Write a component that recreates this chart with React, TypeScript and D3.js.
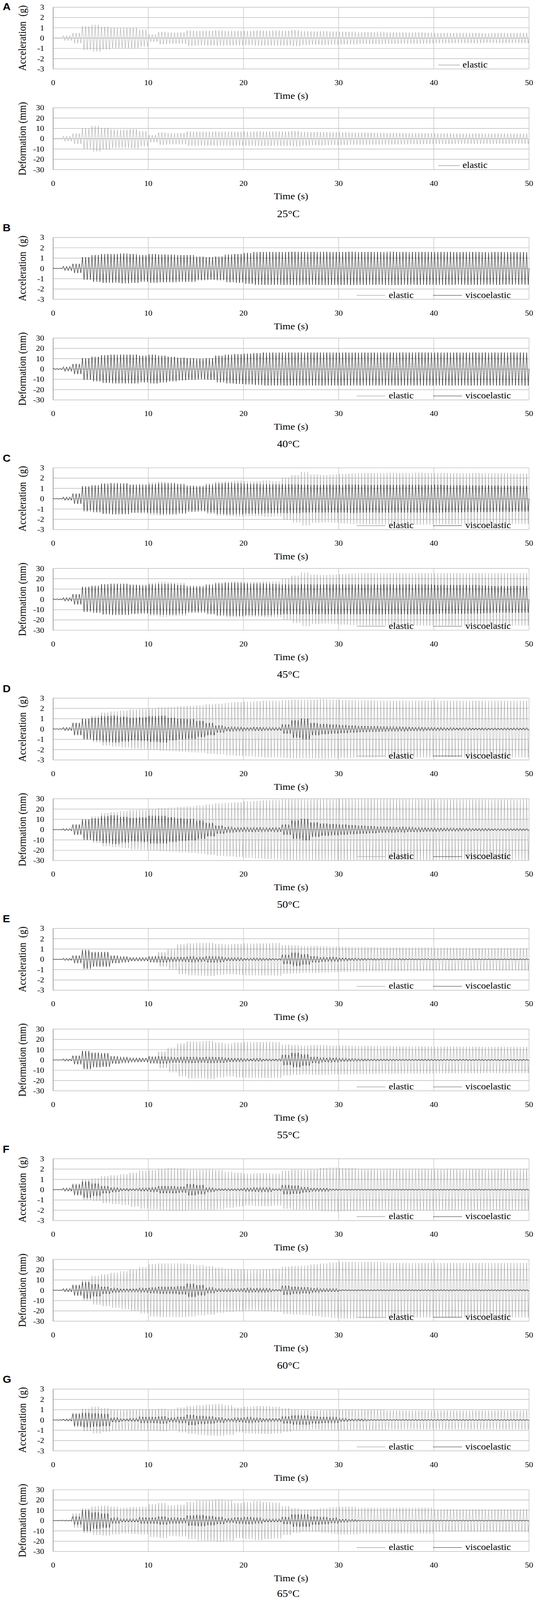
// App
import { useEffect, useState } from 'react';
import * as d3 from 'd3';

// Time axis, tick labels, panel names
const timeTicks = [0, 10, 20, 30, 40, 50];
const accTicks = [3, 2, 1, 0, -1, -2, -3];
const defTicks = [30, 20, 10, 0, -10, -20, -30];
const panelLetters = ['A', 'B', 'C', 'D', 'E', 'F', 'G'];
const temperatures = ['25°C', '40°C', '45°C', '50°C', '55°C', '60°C', '65°C'];

// Peak amplitude for every second (index = second 0..49)
// Acceleration in g, deformation in mm
const accElastic25 = [0.03, 0.25, 0.5, 1.15, 1.3, 1.1, 1.0, 1.0, 1.0, 0.85, 0.35, 0.6, 0.55, 0.55, 0.75, 0.72, 0.72, 0.75, 0.72, 0.7, 0.7, 0.75, 0.72, 0.75, 0.72, 0.78, 0.68, 0.65, 0.68, 0.65, 0.62, 0.62, 0.58, 0.58, 0.6, 0.56, 0.55, 0.55, 0.55, 0.52, 0.5, 0.5, 0.5, 0.5, 0.5, 0.48, 0.5, 0.5, 0.5, 0.5];
const defElastic25 = [0.5, 2.5, 5, 10, 12.5, 10.5, 9, 8.8, 9.2, 7.5, 3.5, 6, 5.5, 5.5, 7, 7, 6.8, 7, 7, 6.8, 7, 7.2, 7, 7.2, 7, 7.5, 6.8, 6.5, 6.5, 6.3, 6.2, 6, 6, 5.8, 5.8, 5.6, 5.5, 5.5, 5.4, 5.3, 5.2, 5.2, 5, 5, 5, 5, 5, 5, 5, 5];

const accElastic40 = [0.03, 0.2, 0.45, 1.1, 1.3, 1.4, 1.4, 1.45, 1.4, 1.3, 1.4, 1.35, 1.35, 1.3, 1.3, 1.15, 1.1, 1.15, 1.35, 1.4, 1.5, 1.6, 1.6, 1.6, 1.6, 1.62, 1.6, 1.6, 1.62, 1.6, 1.6, 1.62, 1.6, 1.6, 1.6, 1.62, 1.6, 1.6, 1.6, 1.6, 1.6, 1.6, 1.58, 1.6, 1.6, 1.58, 1.6, 1.58, 1.58, 1.58];
const accVisco40 = [0.03, 0.2, 0.45, 1.1, 1.3, 1.4, 1.4, 1.45, 1.4, 1.3, 1.4, 1.35, 1.35, 1.3, 1.3, 1.15, 1.1, 1.15, 1.35, 1.4, 1.5, 1.6, 1.6, 1.6, 1.6, 1.62, 1.6, 1.6, 1.62, 1.6, 1.6, 1.62, 1.6, 1.6, 1.6, 1.62, 1.6, 1.6, 1.6, 1.6, 1.6, 1.6, 1.58, 1.6, 1.6, 1.58, 1.6, 1.58, 1.58, 1.58];
const defElastic40 = [0.5, 2, 5, 10.5, 12, 13.5, 14, 14, 14, 13, 14, 13, 12, 11, 10.5, 10, 10.5, 13, 14, 14.5, 15, 15.5, 16, 16, 16, 16, 16, 16, 16, 16, 16, 16, 16, 16, 16, 16, 16, 16, 16, 16, 16, 16, 16, 16, 16, 16, 16, 16, 16, 16];
const defVisco40 = [0.5, 2, 5, 10.5, 12, 13.5, 14, 14, 14, 13, 14, 13, 12, 11, 10.5, 10, 10.5, 13, 14, 14.5, 15, 15.5, 16, 16, 16, 16, 16, 16, 16, 16, 16, 16, 16, 16, 16, 16, 16, 16, 16, 16, 16, 16, 16, 16, 16, 16, 16, 16, 16, 16];

const accElastic45 = [0.03, 0.15, 0.5, 1.25, 1.35, 1.5, 1.55, 1.5, 1.4, 1.45, 1.6, 1.65, 1.6, 1.5, 1.3, 1.3, 1.5, 1.65, 1.7, 1.75, 1.7, 1.7, 1.75, 1.7, 2.05, 2.3, 2.6, 2.35, 2.3, 2.35, 2.4, 2.45, 2.5, 2.5, 2.5, 2.52, 2.5, 2.5, 2.52, 2.5, 2.5, 2.5, 2.48, 2.5, 2.5, 2.48, 2.48, 2.48, 2.45, 2.45];
const accVisco45 = [0.03, 0.15, 0.5, 1.2, 1.3, 1.45, 1.5, 1.5, 1.35, 1.35, 1.4, 1.5, 1.5, 1.4, 1.25, 1.2, 1.35, 1.5, 1.55, 1.5, 1.45, 1.45, 1.4, 1.4, 1.4, 1.4, 1.35, 1.35, 1.35, 1.35, 1.35, 1.38, 1.35, 1.35, 1.35, 1.35, 1.35, 1.35, 1.35, 1.35, 1.35, 1.32, 1.32, 1.3, 1.3, 1.3, 1.28, 1.28, 1.25, 1.25];
const defElastic45 = [0.5, 1.5, 5, 12.5, 13.5, 15, 15.5, 15.5, 14.5, 14.5, 16, 17, 16.5, 16, 13.5, 13.5, 15, 16.5, 17.5, 17.5, 17, 17, 17.5, 17.5, 20, 23, 26, 24, 23.5, 24, 24.5, 25, 25.5, 25.5, 25.5, 25.5, 25.5, 25.5, 25.5, 25.5, 25.5, 25.5, 25.5, 25.5, 25.5, 25.5, 25.5, 25.5, 25.5, 25.5];
const defVisco45 = [0.5, 1.5, 5, 12, 13, 14.5, 15, 15, 14, 13.5, 14.5, 15, 15, 14, 12.5, 12.5, 14, 15.5, 16, 16, 15.5, 15.5, 15.5, 15, 14.5, 14.5, 14.5, 14.5, 14.5, 14.5, 14.5, 14.5, 14.5, 14.5, 14.5, 14.5, 14.5, 14.5, 14.5, 14.5, 14, 14, 14, 14, 14, 13.5, 13, 13, 13, 13];

const accElastic50 = [0.03, 0.15, 0.6, 1.0, 1.3, 1.6, 1.7, 1.8, 1.9, 1.95, 2.0, 2.1, 2.15, 2.2, 2.25, 2.3, 2.4, 2.45, 2.55, 2.6, 2.65, 2.7, 2.75, 2.75, 2.8, 2.85, 2.85, 2.85, 2.9, 2.85, 2.8, 2.8, 2.78, 2.78, 2.75, 2.75, 2.75, 2.75, 2.75, 2.75, 2.75, 2.75, 2.75, 2.75, 2.75, 2.75, 2.75, 2.75, 2.75, 2.75];
const accVisco50 = [0.03, 0.15, 0.6, 1.0, 1.1, 1.25, 1.3, 1.2, 1.1, 1.15, 1.25, 1.3, 1.1, 1.0, 0.95, 0.8, 0.6, 0.35, 0.2, 0.18, 0.15, 0.18, 0.15, 0.15, 0.45, 0.85, 1.0, 0.6, 0.5, 0.45, 0.4, 0.35, 0.3, 0.28, 0.25, 0.22, 0.2, 0.18, 0.17, 0.15, 0.14, 0.13, 0.12, 0.12, 0.11, 0.1, 0.1, 0.1, 0.1, 0.1];
const defElastic50 = [0.3, 1, 5, 10, 13, 16, 17, 18, 19, 19.5, 20, 21, 21.5, 22, 22.5, 23.5, 24.5, 25.5, 26, 26.5, 27.5, 28, 28.5, 29, 29.5, 29.5, 29.5, 29.5, 29.5, 29.5, 29.5, 29.5, 29.5, 29.5, 29.5, 29.5, 29.5, 29.5, 29.5, 29.5, 29.3, 29.3, 29.3, 29.3, 29.3, 29.3, 29.3, 29.3, 29.3, 29.3];
const defVisco50 = [0.3, 1, 5, 10, 11, 13, 14, 12.5, 11.5, 12, 13.5, 13.5, 12, 11, 10.5, 9, 6.5, 4, 2.5, 2, 2, 2, 1.8, 2, 5, 9, 10.5, 7, 6, 5.5, 5, 4.5, 4, 3.5, 3, 2.8, 2.5, 2.2, 2, 1.8, 1.6, 1.5, 1.4, 1.3, 1.2, 1.1, 1, 1, 1, 1];

const accElastic55 = [0.02, 0.1, 0.4, 0.95, 0.75, 0.75, 0.4, 0.3, 0.2, 0.2, 0.35, 0.7, 1.0, 1.45, 1.55, 1.6, 1.6, 1.5, 1.45, 1.5, 1.55, 1.55, 1.55, 1.6, 1.4, 1.35, 1.3, 1.3, 1.28, 1.25, 1.22, 1.2, 1.2, 1.18, 1.18, 1.17, 1.15, 1.15, 1.15, 1.15, 1.12, 1.12, 1.12, 1.12, 1.1, 1.1, 1.1, 1.1, 1.1, 1.1];
const accVisco55 = [0.02, 0.1, 0.35, 0.9, 0.7, 0.7, 0.35, 0.25, 0.15, 0.15, 0.25, 0.3, 0.2, 0.2, 0.25, 0.2, 0.3, 0.25, 0.15, 0.15, 0.1, 0.12, 0.1, 0.08, 0.45, 0.65, 0.5, 0.3, 0.2, 0.2, 0.15, 0.12, 0.1, 0.08, 0.08, 0.07, 0.07, 0.06, 0.06, 0.06, 0.05, 0.05, 0.05, 0.05, 0.05, 0.05, 0.05, 0.05, 0.05, 0.05];
const defElastic55 = [0.2, 1, 4.5, 9, 7.5, 7, 4, 3, 2.2, 2.2, 4, 8, 12, 16, 18, 18, 18.5, 17, 16, 17, 17.5, 17.5, 17.5, 17.5, 15, 14.5, 14, 14.5, 14.5, 14, 14, 13.8, 13.7, 13.5, 13.5, 13.5, 13.3, 13.3, 13.2, 13.2, 13, 13, 13, 13, 13, 12.8, 12.8, 12.8, 12.8, 12.8];
const defVisco55 = [0.2, 1, 4, 8.8, 7, 6.5, 3.5, 2.5, 1.8, 1.8, 3, 3.5, 2.5, 2.5, 3, 2.5, 3, 2.8, 1.8, 1.5, 1.2, 1.5, 1, 1, 5, 7, 5.5, 3, 2, 2, 1.5, 1.2, 1, 0.9, 0.8, 0.8, 0.7, 0.7, 0.7, 0.7, 0.6, 0.6, 0.6, 0.6, 0.6, 0.6, 0.6, 0.6, 0.6, 0.6];

const accElastic60 = [0.03, 0.15, 0.6, 1.0, 1.1, 1.3, 1.4, 1.5, 1.65, 1.85, 1.9, 2.0, 2.1, 2.05, 1.95, 1.95, 1.95, 1.9, 1.75, 1.65, 1.55, 1.6, 1.6, 1.55, 1.85, 1.95, 1.95, 1.95, 2.1, 2.15, 2.1, 2.1, 2.0, 2.0, 2.0, 2.0, 2.0, 2.0, 2.0, 2.0, 2.0, 2.0, 2.0, 2.0, 2.0, 2.0, 2.0, 2.0, 2.0, 2.0];
const accVisco60 = [0.03, 0.15, 0.5, 0.8, 0.6, 0.35, 0.2, 0.12, 0.1, 0.15, 0.2, 0.35, 0.35, 0.3, 0.55, 0.45, 0.2, 0.1, 0.1, 0.1, 0.15, 0.2, 0.2, 0.1, 0.45, 0.4, 0.25, 0.15, 0.15, 0.08, 0.05, 0.05, 0.05, 0.05, 0.05, 0.05, 0.05, 0.05, 0.05, 0.05, 0.05, 0.05, 0.05, 0.05, 0.05, 0.05, 0.05, 0.05, 0.05, 0.05];
const defElastic60 = [0.3, 1.5, 5.5, 10, 14, 15.5, 17, 18.5, 20, 22.5, 25.5, 26, 26, 26, 25.5, 24.5, 23.5, 22, 21, 20.5, 20, 20, 20.5, 21, 23, 23.5, 24, 25, 26, 27, 27.5, 27.5, 27.5, 27.5, 27.5, 26.5, 26.5, 26.5, 26.5, 26.5, 26.5, 26.5, 26.5, 26.5, 26.5, 26.5, 26.5, 26.5, 26.5, 26.5];
const defVisco60 = [0.3, 1.5, 5, 8, 6, 3.5, 2, 1.5, 1.5, 2, 2.5, 3.5, 3.5, 4, 6.5, 5, 2.5, 1.5, 1.5, 1.5, 2, 1.8, 1.8, 1, 4.5, 3.5, 3, 2, 1.5, 1.5, 0.6, 0.6, 0.6, 0.6, 0.6, 0.6, 0.6, 0.6, 0.6, 0.6, 0.6, 0.6, 0.6, 0.6, 0.6, 0.6, 0.6, 0.6, 0.6, 0.6];

const accElastic65 = [0.03, 0.1, 0.7, 1.1, 1.3, 1.15, 1.05, 1.0, 1.0, 1.05, 1.05, 1.1, 1.0, 1.2, 1.35, 1.45, 1.5, 1.55, 1.45, 1.2, 1.3, 1.35, 1.35, 1.3, 1.15, 1.0, 0.95, 0.9, 0.95, 1.0, 1.0, 1.0, 1.0, 1.0, 1.0, 0.9, 0.9, 0.9, 0.9, 0.9, 0.9, 0.9, 0.9, 0.9, 0.9, 0.9, 0.9, 0.9, 0.9, 0.9];
const accVisco65 = [0.03, 0.1, 0.6, 0.7, 0.65, 0.6, 0.2, 0.12, 0.15, 0.3, 0.3, 0.35, 0.2, 0.3, 0.5, 0.4, 0.35, 0.25, 0.15, 0.2, 0.25, 0.2, 0.15, 0.15, 0.35, 0.45, 0.45, 0.35, 0.3, 0.25, 0.15, 0.1, 0.1, 0.05, 0.05, 0.05, 0.05, 0.05, 0.05, 0.05, 0.05, 0.05, 0.05, 0.05, 0.05, 0.05, 0.05, 0.05, 0.05, 0.05];
const defElastic65 = [0.3, 0.5, 7, 12, 14, 14.5, 13.5, 12.5, 13, 13.5, 16, 17, 15, 15.5, 18, 19.5, 19.5, 20.5, 19.5, 17, 18, 19, 18, 17.5, 14, 12, 11, 11, 12, 13, 13.5, 13.5, 12.5, 12.5, 12.5, 12.5, 12.5, 12.5, 12.5, 12.5, 11, 11, 11, 11, 11, 11, 11, 11, 11, 11];
const defVisco65 = [0.3, 0.5, 4, 10, 8, 7, 2.5, 1.5, 1.5, 3, 3, 4, 2.5, 2.5, 5, 5.5, 4.5, 3.5, 2, 3, 3.5, 2.5, 1.5, 1.5, 3.5, 6, 6, 4, 3.5, 2.5, 1.5, 1, 0.5, 0.5, 0.5, 0.5, 0.5, 0.5, 0.5, 0.5, 0.5, 0.5, 0.5, 0.5, 0.5, 0.5, 0.5, 0.5, 0.5, 0.5];

const accElastic = [accElastic25, accElastic40, accElastic45, accElastic50, accElastic55, accElastic60, accElastic65];
const accVisco = [null, accVisco40, accVisco45, accVisco50, accVisco55, accVisco60, accVisco65];
const defElastic = [defElastic25, defElastic40, defElastic45, defElastic50, defElastic55, defElastic60, defElastic65];
const defVisco = [null, defVisco40, defVisco45, defVisco50, defVisco55, defVisco60, defVisco65];

// layout
const W = 1377;
const H = 4453;
const LEFT = 136;
const RIGHT = 1354;
const PLOT_H = 172;
const PANEL_STEP = 641;
const FIRST_TOP = 20;
const PEAKS_PER_SECOND = 6;
const SERIF = '"Liberation Serif", "Times New Roman", serif';
const ELASTIC_COLOR = '#a2a2a2';

// alternate the sign of successive peaks inside each second
function toPeaks(amps: number[]): [number, number][] {
	const pts: [number, number][] = [[0, 0]];
	amps.forEach((a, s) => {
		for (let k = 0; k < PEAKS_PER_SECOND; k++) {
			const idx = s * PEAKS_PER_SECOND + k;
			pts.push([s + (k + 0.5) / PEAKS_PER_SECOND, idx % 2 === 0 ? a : -a]);
		}
	});
	pts.push([50, 0]);
	return pts;
}

interface IChart {
	top: number;
	max: number;
	ticks: number[];
	title: string;
	elastic: number[];
	visco: number[] | null;
}

function Chart({ top, max, ticks, title, elastic, visco }: IChart) {
	const x = d3.scaleLinear().domain([0, 50]).range([LEFT, RIGHT]);
	const y = d3.scaleLinear().domain([-max, max]).range([top + PLOT_H, top]);
	const line = d3
		.line<[number, number]>()
		.x((d) => x(d[0]))
		.y((d) => y(d[1]));
	const legendY = top + 161;
	const midY = top + PLOT_H / 2;

	return (
		<g>
			{ticks.map((t) => (
				<line key={'h' + t} x1={LEFT} x2={RIGHT} y1={y(t)} y2={y(t)} stroke='#bdbdbd' strokeWidth={1.6} />
			))}
			{timeTicks.map((t) => (
				<line key={'v' + t} x1={x(t)} x2={x(t)} y1={top} y2={top + PLOT_H} stroke='#c4c4c4' strokeWidth={1.4} />
			))}
			<line x1={LEFT} x2={LEFT} y1={top} y2={top + PLOT_H} stroke='#9c9c9c' strokeWidth={1.8} />

			<path d={line(toPeaks(elastic)) ?? ''} fill='none' stroke={ELASTIC_COLOR} strokeWidth={1} />
			{visco && (
				<path
					d={line(toPeaks(visco)) ?? ''}
					fill='none'
					stroke='#000'
					strokeWidth={1.35}
					strokeDasharray='2.2 1.6'
				/>
			)}

			{ticks.map((t) => (
				<text key={'yl' + t} x={113} y={y(t) + 7} textAnchor='end' fontFamily={SERIF} fontSize={21}>
					{t}
				</text>
			))}
			{timeTicks.map((t) => (
				<text key={'xl' + t} x={x(t)} y={top + 217} textAnchor='middle' fontFamily={SERIF} fontSize={21}>
					{t}
				</text>
			))}
			<text
				x={57}
				y={midY}
				transform={`rotate(-90, 57, ${midY})`}
				textAnchor='middle'
				dominantBaseline='central'
				fontFamily={SERIF}
				fontSize={27}
				style={{ whiteSpace: 'pre' }}
			>
				{title}
			</text>
			<text x={(LEFT + RIGHT) / 2} y={top + 255} textAnchor='middle' fontFamily={SERIF} fontSize={26}>
				Time (s)
			</text>

			{visco ? (
				<g fontFamily={SERIF} fontSize={25}>
					<line x1={913} x2={986} y1={legendY} y2={legendY} stroke={ELASTIC_COLOR} strokeWidth={1.5} />
					<text x={995} y={legendY + 7}>elastic</text>
					<line x1={1109} x2={1183} y1={legendY} y2={legendY} stroke='#000' strokeWidth={1.3} strokeDasharray='2.5 1.2' />
					<text x={1191} y={legendY + 7}>viscoelastic</text>
				</g>
			) : (
				<g fontFamily={SERIF} fontSize={25}>
					<line x1={1122} x2={1177} y1={legendY} y2={legendY} stroke={ELASTIC_COLOR} strokeWidth={1.5} />
					<text x={1184} y={legendY + 7}>elastic</text>
				</g>
			)}
		</g>
	);
}

// the figure is drawn in 1377x4453 units and stretched to the height the window really offers
function useViewHeight() {
	const read = () => Math.min(H, window.innerHeight || H);
	const [vh, setVh] = useState<number>(read);
	useEffect(() => {
		const onResize = () => setVh(read());
		window.addEventListener('resize', onResize);
		return () => window.removeEventListener('resize', onResize);
	}, []);
	return vh;
}

export default function App() {
	const vh = useViewHeight();
	return (
		<div style={{ margin: -8, width: W, height: vh, overflow: 'hidden' }}>
			<svg
				width={W}
				height={vh}
				viewBox={`0 0 ${W} ${H}`}
				preserveAspectRatio='none'
				style={{ display: 'block', background: '#fff' }}
			>
				{panelLetters.map((letter, i) => {
					const top = FIRST_TOP + i * PANEL_STEP;
					return (
						<g key={letter}>
							<text
								x={7}
								y={i === 0 ? 28 : top - 17}
								fontFamily='"Liberation Sans", Arial, sans-serif'
								fontWeight='bold'
								fontSize={28}
							>
								{letter}
							</text>
							<Chart
								top={top}
								max={3}
								ticks={accTicks}
								title='Acceleration  (g)'
								elastic={accElastic[i]}
								visco={accVisco[i]}
							/>
							<Chart
								top={top + 280}
								max={30}
								ticks={defTicks}
								title='Deformation (mm)'
								elastic={defElastic[i]}
								visco={defVisco[i]}
							/>
							<text
								x={738}
								y={Math.min(top + 584, H - 9)}
								textAnchor='middle'
								fontFamily={SERIF}
								fontSize={28}
							>
								{temperatures[i]}
							</text>
						</g>
					);
				})}
			</svg>
		</div>
	);
}
